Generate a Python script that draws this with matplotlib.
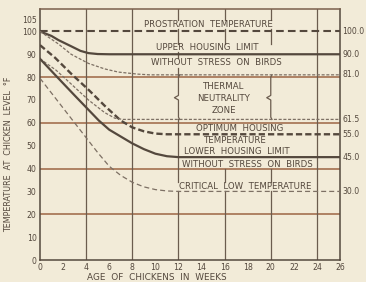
import matplotlib
matplotlib.use("Agg")
import matplotlib.pyplot as plt

# ---------------- data ----------------
x_ticks = [0, 2, 4, 6, 8, 10, 12, 14, 16, 18, 20, 22, 24, 26]
y_ticks = [0, 10, 20, 30, 40, 50, 60, 70, 80, 90, 100, 105]

weeks_prostration = [0, 26]
prostration = [100, 100]

weeks_upper = [0, 1, 1.6, 2.7, 3.5, 4.2, 5, 6, 26]
upper_limit = [100, 98, 96.2, 93.5, 91.5, 90.5, 90.1, 90, 90]

weeks_tn_upper = [0, 1.6, 2.7, 4.2, 5.6, 6.8, 8.5, 9.5, 26]
tn_upper = [100, 94.5, 90, 86, 83.6, 82.2, 81.3, 81, 81]

weeks_opt = [0, 1.3, 2.7, 4.2, 5.6, 7, 8, 9, 10, 11, 26]
optimum = [94, 88.5, 81.5, 74.5, 67.5, 61, 58, 56.3, 55.3, 55, 55]

weeks_tn_lower = [0, 1.4, 2.7, 4.2, 5.6, 6.5, 7.2, 26]
tn_lower = [88, 83, 77, 70, 64.5, 62, 61.5, 61.5]

weeks_lower = [0, 1.4, 3, 5.1, 6, 7, 8, 9, 10, 11, 12, 26]
lower_limit = [88, 80.5, 72, 61, 57, 54, 51, 48.5, 46.5, 45.4, 45, 45]

weeks_critical = [0, 1, 2, 3, 4, 5, 6, 7, 8, 9, 10, 11, 12, 26]
critical = [79.5, 73, 66.5, 60, 53.5, 47, 41, 37, 34, 32, 30.8, 30.2, 30, 30]

right_values = [100, 90, 81, 61.5, 55, 45, 30]
right_labels = ["100.0", "90.0", "81.0", "61.5", "55.0", "45.0", "30.0"]

# ---------------- style ----------------
BG = "#f2ebd8"
INK = "#54483d"
LIGHT = "#7d7064"
GRID_H = "#a9795a"
GRID_V = "#6b5c4e"

plt.rcParams["font.family"] = ["DejaVu Sans"]
plt.rcParams["lines.scale_dashes"] = False

fig = plt.figure(figsize=(3.66, 2.82), dpi=100, facecolor=BG)
ax = fig.add_axes([40 / 366, 1 - 260 / 282, 300 / 366, 251 / 282])
ax.set_facecolor(BG)
ax.set_xlim(0, 26)
ax.set_ylim(0.8, 109.8)

# grid lines (vertical ones broken where the lettering sits)
for yv in [20, 40, 60, 80]:
    ax.plot([0, 26], [yv, yv], color=GRID_H, lw=1.3, zorder=1)
for xv in [4, 8, 24]:
    ax.plot([xv, xv], [0, 110], color=GRID_V, lw=0.9, zorder=1)
v_segments = {
    12: [(0, 30.2), (34.2, 61.5), (81, 84.2), (88.4, 91), (94.6, 101.2), (104.8, 110)],
    16: [(0, 30.2), (34.2, 40), (94.6, 101.2), (104.8, 110)],
    20: [(0, 30.2), (34.2, 40), (94.6, 101.2), (104.8, 110)],
}
for xv, segs in v_segments.items():
    for y0, y1 in segs:
        ax.plot([xv, xv], [y0, y1], color=GRID_V, lw=0.9, zorder=1)

# curves
ax.plot(weeks_prostration, prostration, color=INK, lw=1.5, dashes=(5.5, 3), zorder=3)
ax.plot(weeks_upper, upper_limit, color=INK, lw=1.6, zorder=3)
ax.plot(weeks_tn_upper, tn_upper, color=LIGHT, lw=0.9, dashes=(2.2, 1.2), zorder=3)
ax.plot(weeks_opt, optimum, color=INK, lw=1.7, dashes=(4.5, 2.2), zorder=3)
ax.plot(weeks_tn_lower, tn_lower, color=LIGHT, lw=0.9, dashes=(2.2, 1.2), zorder=3)
ax.plot(weeks_lower, lower_limit, color=INK, lw=1.6, zorder=3)
ax.plot(weeks_critical, critical, color=LIGHT, lw=0.9, dashes=(3.6, 2.2), zorder=3)

# braces of thermal neutrality zone
for xb in [12, 20]:
    ax.plot([xb + 0.1, xb, xb, xb - 0.35, xb, xb, xb + 0.1],
            [81, 80, 72, 71.0, 70.0, 62.5, 61.5],
            color=GRID_V, lw=0.9, zorder=2)

# spines
for s in ["left", "bottom", "right"]:
    ax.spines[s].set_color(INK)
    ax.spines[s].set_linewidth(1.1)
ax.spines["top"].set_color("#7a5f4c")
ax.spines["top"].set_linewidth(1.1)

ax.set_xticks(x_ticks)
ax.set_yticks(y_ticks)
ax.set_xticklabels([str(v) for v in x_ticks])
ax.set_yticklabels([str(v) for v in y_ticks])
ax.tick_params(length=0, labelsize=5.6, colors=INK, pad=2.5)

fs = 6.2
labels = [
    ("PROSTRATION  TEMPERATURE", 14.6, 103),
    ("UPPER  HOUSING  LIMIT", 14.5, 92.8),
    ("WITHOUT  STRESS  ON  BIRDS", 15.3, 86.3),
    ("THERMAL", 15.95, 76),
    ("NEUTRALITY", 15.95, 70.7),
    ("ZONE", 15.95, 65.4),
    ("OPTIMUM  HOUSING", 17.3, 57.6),
    ("TEMPERATURE", 16.9, 52.4),
    ("LOWER  HOUSING  LIMIT", 17.1, 47.6),
    ("WITHOUT  STRESS  ON  BIRDS", 18.0, 41.8),
    ("CRITICAL  LOW  TEMPERATURE", 17.8, 32.3),
]
for txt, xv, yv in labels:
    ax.text(xv, yv, txt, fontsize=fs, color=INK, ha="center", va="center", zorder=4)

for v, lab in zip(right_values, right_labels):
    ax.text(26.2, v, lab, fontsize=5.6, color=INK, ha="left", va="center",
            clip_on=False)

fig.text(157 / 366, 1 - 277 / 282, "AGE  OF  CHICKENS  IN  WEEKS", fontsize=6.4,
         color=INK, ha="center", va="center")
fig.text(9 / 366, 1 - 154 / 282, "TEMPERATURE  AT  CHICKEN  LEVEL  °F", fontsize=5.8,
         color=INK, ha="center", va="center", rotation=90)

fig.savefig("out.png", dpi=100, facecolor=BG)
